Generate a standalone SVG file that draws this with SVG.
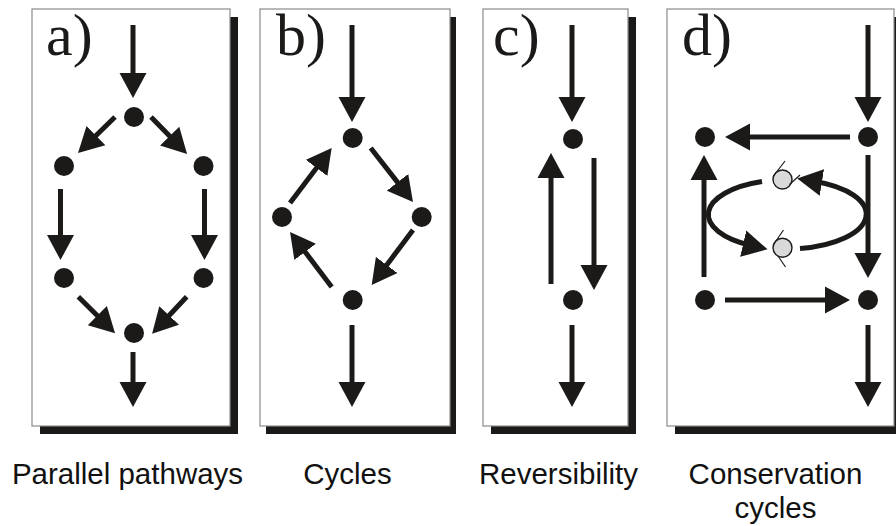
<svg xmlns="http://www.w3.org/2000/svg" width="896" height="526" viewBox="0 0 896 526">
  <style>
    .shadow { fill: #1c1a19; }
    .box { fill: #ffffff; stroke: #8a8a8a; stroke-width: 1.2; }
    .lbl { font-family: "Liberation Serif", "Times New Roman", serif; font-size: 60px; fill: #1c1a19; }
    .cap { font-family: "Liberation Sans", Arial, sans-serif; font-size: 29.5px; fill: #111111; text-anchor: middle; }
    .dot { fill: #1c1a19; }
    .arr { fill: none; stroke: #1c1a19; stroke-width: 5; marker-end: url(#ah); }
    .cyc { fill: none; stroke: #1c1a19; stroke-width: 5; marker-end: url(#ah); }
    .moiety { fill: #d9d9d9; stroke: #1c1a19; stroke-width: 1.4; }
    .tick { fill: none; stroke: #1c1a19; stroke-width: 1.2; }
  </style>
  <defs>
    <marker id="ah" markerUnits="userSpaceOnUse" viewBox="0 -14 26 28" markerWidth="26" markerHeight="28" refX="8" refY="0" orient="auto">
      <path d="M0,-13.5 L25,0 L0,13.5 Z" fill="#1c1a19"/>
    </marker>
  </defs>

  <!-- Panel frames -->
  <g id="panel-a">
    <rect class="shadow" x="40" y="17" width="198" height="417"/>
    <rect class="box" x="32" y="9" width="198" height="417"/>
    <text class="lbl" x="46" y="55">a)</text>
  </g>
  <g id="panel-b">
    <rect class="shadow" x="266" y="17" width="190" height="417"/>
    <rect class="box" x="260" y="9" width="190" height="417"/>
    <text class="lbl" x="276" y="55">b)</text>
  </g>
  <g id="panel-c">
    <rect class="shadow" x="491" y="17" width="145" height="417"/>
    <rect class="box" x="483" y="9" width="145" height="417"/>
    <text class="lbl" x="493" y="55">c)</text>
  </g>
  <g id="panel-d">
    <rect class="shadow" x="675" y="17" width="227" height="417"/>
    <rect class="box" x="667" y="9" width="227" height="417"/>
    <text class="lbl" x="682" y="55">d)</text>
  </g>

  <!-- Connectors -->
  <g id="connectors">
    <!-- a -->
    <line class="arr" x1="133" y1="25" x2="133" y2="81"/>
    <line class="arr" x1="115" y1="117" x2="90.2" y2="141.2"/>
    <line class="arr" x1="151" y1="117" x2="175.2" y2="141.8"/>
    <line class="arr" x1="60.5" y1="189" x2="60.5" y2="243"/>
    <line class="arr" x1="204.5" y1="189" x2="204.5" y2="243"/>
    <line class="arr" x1="78.3" y1="296.7" x2="103" y2="321.3"/>
    <line class="arr" x1="186.7" y1="296.7" x2="163.7" y2="321.3"/>
    <line class="arr" x1="133" y1="352" x2="133" y2="390"/>
    <!-- b -->
    <line class="arr" x1="352" y1="25" x2="352" y2="105"/>
    <line class="arr" x1="370.7" y1="148" x2="402.5" y2="188.6"/>
    <line class="arr" x1="413" y1="230" x2="381.9" y2="271.4"/>
    <line class="arr" x1="331.7" y1="287" x2="300.3" y2="245.5"/>
    <line class="arr" x1="290" y1="203" x2="321.4" y2="161.5"/>
    <line class="arr" x1="352" y1="325" x2="352" y2="390"/>
    <!-- c -->
    <line class="arr" x1="572" y1="25" x2="572" y2="105"/>
    <line class="arr" x1="551" y1="284" x2="551" y2="170"/>
    <line class="arr" x1="594" y1="158" x2="594" y2="273"/>
    <line class="arr" x1="572" y1="325" x2="572" y2="390"/>
    <!-- d -->
    <line class="arr" x1="868" y1="25" x2="868" y2="105"/>
    <line class="arr" x1="850" y1="137" x2="742" y2="137"/>
    <line class="arr" x1="725" y1="300" x2="833" y2="300"/>
    <line class="arr" x1="704" y1="277" x2="704" y2="172"/>
    <line class="arr" x1="868" y1="155" x2="868" y2="261"/>
    <line class="arr" x1="868" y1="325" x2="868" y2="390"/>
    <path class="cyc" d="M800,248.5 A80,35 0 0 0 814,181.2"/>
    <path class="cyc" d="M762,181.5 A80,35 0 0 0 751,245.5"/>
  </g>

  <!-- Nodes -->
  <g id="nodes">
    <g id="a-n1"><circle class="dot" cx="134" cy="117" r="10"/></g>
    <g id="a-n2"><circle class="dot" cx="64" cy="166" r="10"/></g>
    <g id="a-n3"><circle class="dot" cx="203.5" cy="166" r="10"/></g>
    <g id="a-n4"><circle class="dot" cx="64" cy="278" r="10"/></g>
    <g id="a-n5"><circle class="dot" cx="203.5" cy="278" r="10"/></g>
    <g id="a-n6"><circle class="dot" cx="134" cy="333" r="10"/></g>

    <g id="b-n1"><circle class="dot" cx="352.7" cy="138" r="10"/></g>
    <g id="b-n2"><circle class="dot" cx="282" cy="217" r="10"/></g>
    <g id="b-n3"><circle class="dot" cx="421.7" cy="217" r="10"/></g>
    <g id="b-n4"><circle class="dot" cx="352.7" cy="300" r="10"/></g>

    <g id="c-n1"><circle class="dot" cx="573" cy="139" r="10"/></g>
    <g id="c-n2"><circle class="dot" cx="573" cy="300" r="10"/></g>

    <g id="d-n1"><circle class="dot" cx="705" cy="137" r="10"/></g>
    <g id="d-n2"><circle class="dot" cx="868" cy="137" r="10"/></g>
    <g id="d-n3"><circle class="dot" cx="705" cy="300" r="10"/></g>
    <g id="d-n4"><circle class="dot" cx="868" cy="300" r="10"/></g>

    <g id="d-m1">
      <circle class="moiety" cx="782.5" cy="179.5" r="9.5"/>
      <path class="tick" d="M785,161 L773.5,176 M789.5,184.5 L800,175"/>
    </g>
    <g id="d-m2">
      <circle class="moiety" cx="782.5" cy="247.7" r="9.5"/>
      <path class="tick" d="M783.5,230 L773.5,244.5 M778,256 L785.5,267"/>
    </g>
  </g>

  <!-- Captions -->
  <g id="captions">
    <text class="cap" x="127.5" y="484">Parallel pathways</text>
    <text class="cap" x="347.5" y="484">Cycles</text>
    <text class="cap" x="558.5" y="484">Reversibility</text>
    <text class="cap" x="775.5" y="484">Conservation</text>
    <text class="cap" x="775.5" y="518">cycles</text>
  </g>
</svg>
